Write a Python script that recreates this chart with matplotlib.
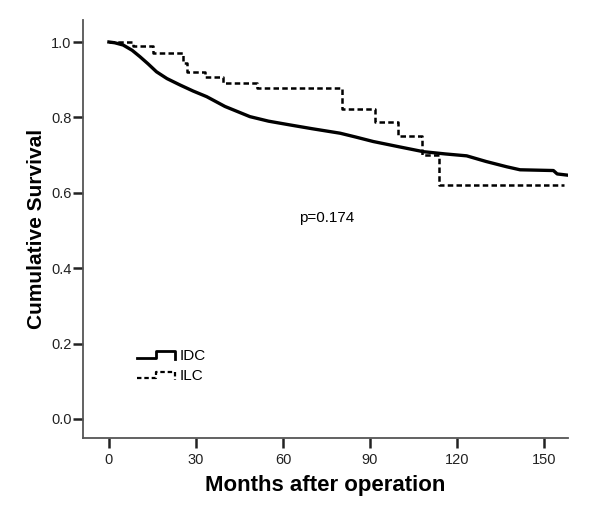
import matplotlib
matplotlib.use('Agg')
import matplotlib.pyplot as plt
import numpy as np

plt.rcParams['font.family'] = ['Liberation Sans', 'DejaVu Sans']

# Kaplan-Meier curves (months, cumulative survival)
# IDC has so many events that its steps blur into a line
idc_months = [0, 2, 4.9, 8, 10.7, 13.5, 16.4, 20, 24.5, 29, 33.7, 40, 48.6, 55, 62.4, 70,
              79.7, 85, 91.1, 100, 108.4, 116, 123.3, 130, 137.1, 141.7, 153.2, 154.5, 157.8]
idc_surv = [1.0, 0.998, 0.992, 0.978, 0.961, 0.942, 0.921, 0.903, 0.886, 0.870, 0.855, 0.829,
            0.802, 0.790, 0.780, 0.770, 0.758, 0.748, 0.736, 0.722, 0.709, 0.703, 0.698, 0.683,
            0.669, 0.661, 0.659, 0.650, 0.647]

ilc_months = [0, 8.3, 15.2, 25.5, 27, 33, 39.4, 51, 80.4, 91.7, 99.7, 107.8, 113.8, 157]
ilc_surv = [1.0, 0.990, 0.970, 0.945, 0.921, 0.906, 0.892, 0.877, 0.821, 0.787, 0.751, 0.700,
            0.621, 0.621]

x_ticks = [0, 30, 60, 90, 120, 150]
y_ticks = [0.0, 0.2, 0.4, 0.6, 0.8, 1.0]
p_text = 'p=0.174'

fig = plt.figure(figsize=(6, 5.3), dpi=100)
ax = fig.add_axes([0.138, 0.174, 0.809, 0.788])

ax.plot(idc_months, idc_surv, color='black', lw=2.4, solid_joinstyle='round')
ax.plot(ilc_months, ilc_surv, drawstyle='steps-post', color='black', lw=1.8,
        linestyle=(0, (2.2, 1.3)))

ax.set_xlim(-9, 158.3)
ax.set_ylim(-0.05, 1.058)
ax.set_xticks(x_ticks)
ax.set_yticks(y_ticks)
ax.set_yticklabels(['%.1f' % v for v in y_ticks])

for side in ['top', 'right']:
    ax.spines[side].set_visible(False)
for side in ['left', 'bottom']:
    ax.spines[side].set_color('#555555')
    ax.spines[side].set_linewidth(1.3)
ax.tick_params(axis='both', direction='out', length=7, width=1.8, color='#222222',
               labelsize=10.5, labelcolor='#222222')
ax.tick_params(axis='y', pad=1)
ax.tick_params(axis='x', pad=4)

ax.set_xlabel('Months after operation', fontsize=16, fontweight='bold', labelpad=6)
ax.set_ylabel('Cumulative Survival', fontsize=15, fontweight='bold', labelpad=4)

ax.text(75, 0.533, p_text, fontsize=11, ha='center', va='center')

# legend with little step glyphs like SPSS
tr = ax.transAxes
def glyph(y0, style, lw):
    gx = np.array([0.112, 0.15, 0.15, 0.19, 0.19])
    gy = np.array([y0, y0, y0 + 0.016, y0 + 0.016, y0 - 0.004])
    ax.plot(gx, gy, transform=tr, color='black', lw=lw, linestyle=style, clip_on=False)

glyph(0.192, '-', 2.0)
glyph(0.142, (0, (2.0, 1.3)), 1.6)
ax.text(0.2, 0.197, 'IDC', transform=tr, fontsize=11, va='center')
ax.text(0.2, 0.147, 'ILC', transform=tr, fontsize=11, va='center')

fig.savefig('out.png', dpi=100)
